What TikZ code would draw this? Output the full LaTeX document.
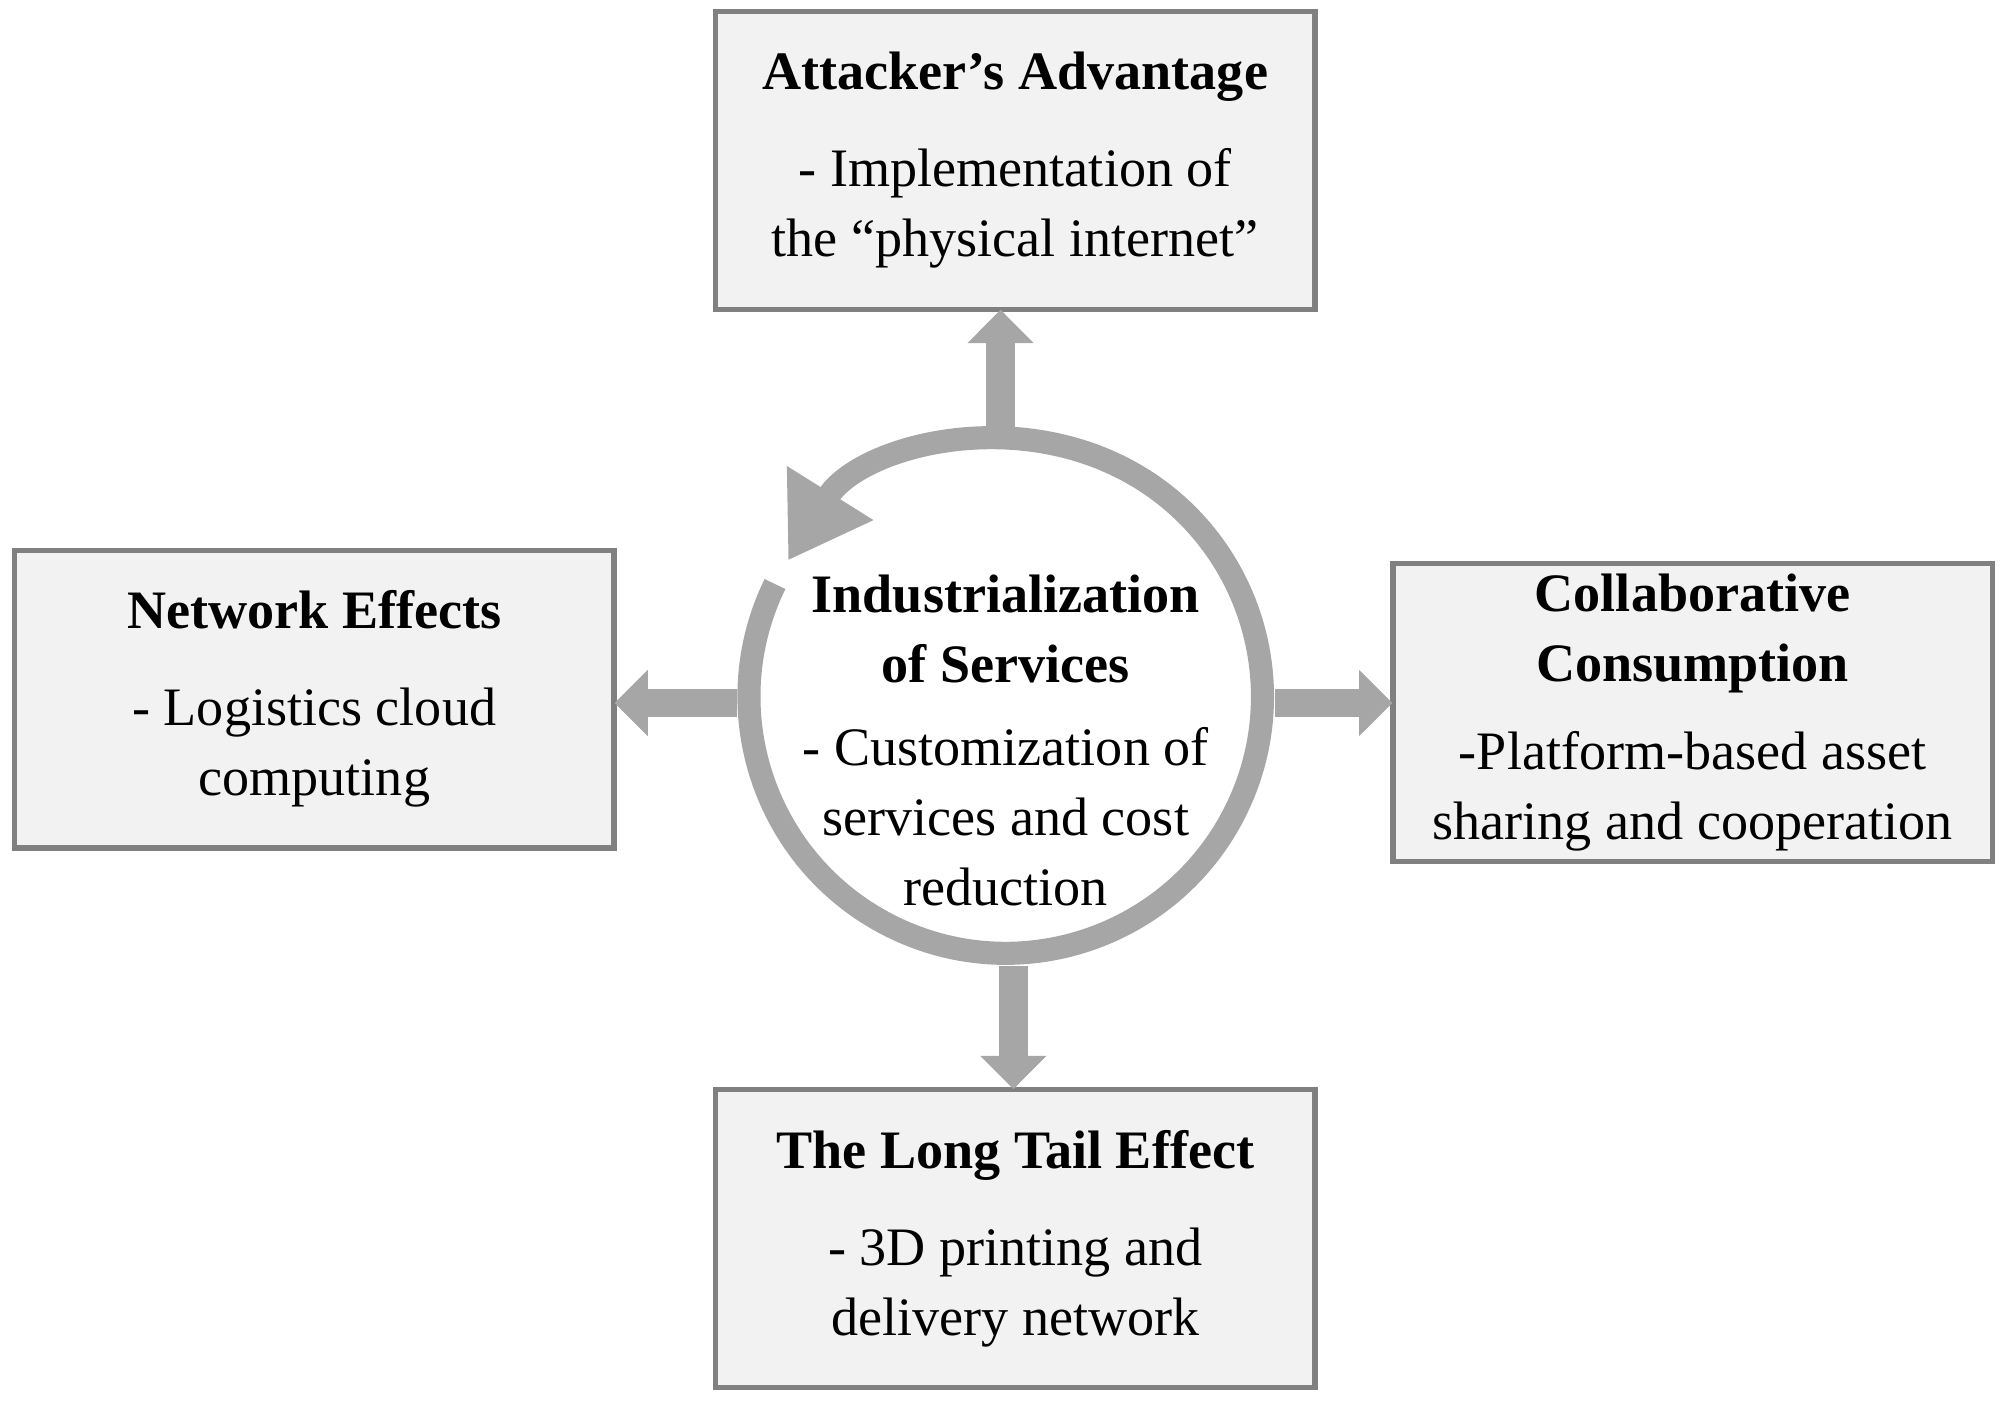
\documentclass[tikz,border=0pt]{standalone}
\usepackage{fontspec}
\setmainfont{Liberation Serif}
\usetikzlibrary{arrows.meta}
\definecolor{rg}{HTML}{A6A6A6}
\definecolor{bf}{HTML}{F2F2F2}
\definecolor{bd}{HTML}{808080}
\begin{document}
\begin{tikzpicture}[x=0.01cm,y=-0.01cm,
  box/.style={draw=bd,line width=1.2pt,fill=bf,minimum width=4.67cm,minimum height=2.32cm,align=center,inner sep=0pt,font=\fontsize{12}{15.5}\selectfont},
  thk/.style={draw=rg,line width=0.22cm,-{Triangle[width=0.5cm,length=0.26cm]},shorten >=-0.5pt}]
\useasboundingbox (0,0) rectangle (1563,1096);
\node[box] (top) at (791.5,125) {\textbf{Attacker’s Advantage}\\[6pt] - Implementation of\\ the “physical internet”};
\node[box] (left) at (245,545) {\textbf{Network Effects}\\[6pt] - Logistics cloud\\ computing};
\node[box] (right) at (1319.5,555.5) {\textbf{Collaborative}\\\textbf{Consumption}\\[4pt] -Platform-based asset\\ sharing and cooperation};
\node[box] (bot) at (791.5,965.5) {\textbf{The Long Tail Effect}\\[6pt] - 3D printing and\\ delivery network};
\node[circle,minimum size=4.18cm,inner sep=0pt] (c) at (784,543) {};
\node[align=center,font=\fontsize{12}{15.5}\selectfont] (ct) at (784,577) {\textbf{Industrialization}\\\textbf{of Services}\\[3pt] - Customization of\\ services and cost\\ reduction};
\draw[draw=rg,line width=0.18cm,-{Triangle[width=0.75cm,length=0.62cm]}] ([shift={(154:2cm)}]c.center) arc[start angle=154,end angle=508,radius=2cm];
\draw[thk] ([xshift=-0.04cm]c.north) -- ([xshift=-0.04cm]c.north |- top.south);
\draw[thk] ([xshift=0.06cm]c.south) -- ([xshift=0.06cm]c.south |- bot.north);
\draw[thk] ([yshift=-0.05cm]c.west) -- ([yshift=-0.05cm]c.west -| left.east);
\draw[thk] ([yshift=-0.05cm]c.east) -- ([yshift=-0.05cm]c.east -| right.west);
\end{tikzpicture}
\end{document}
